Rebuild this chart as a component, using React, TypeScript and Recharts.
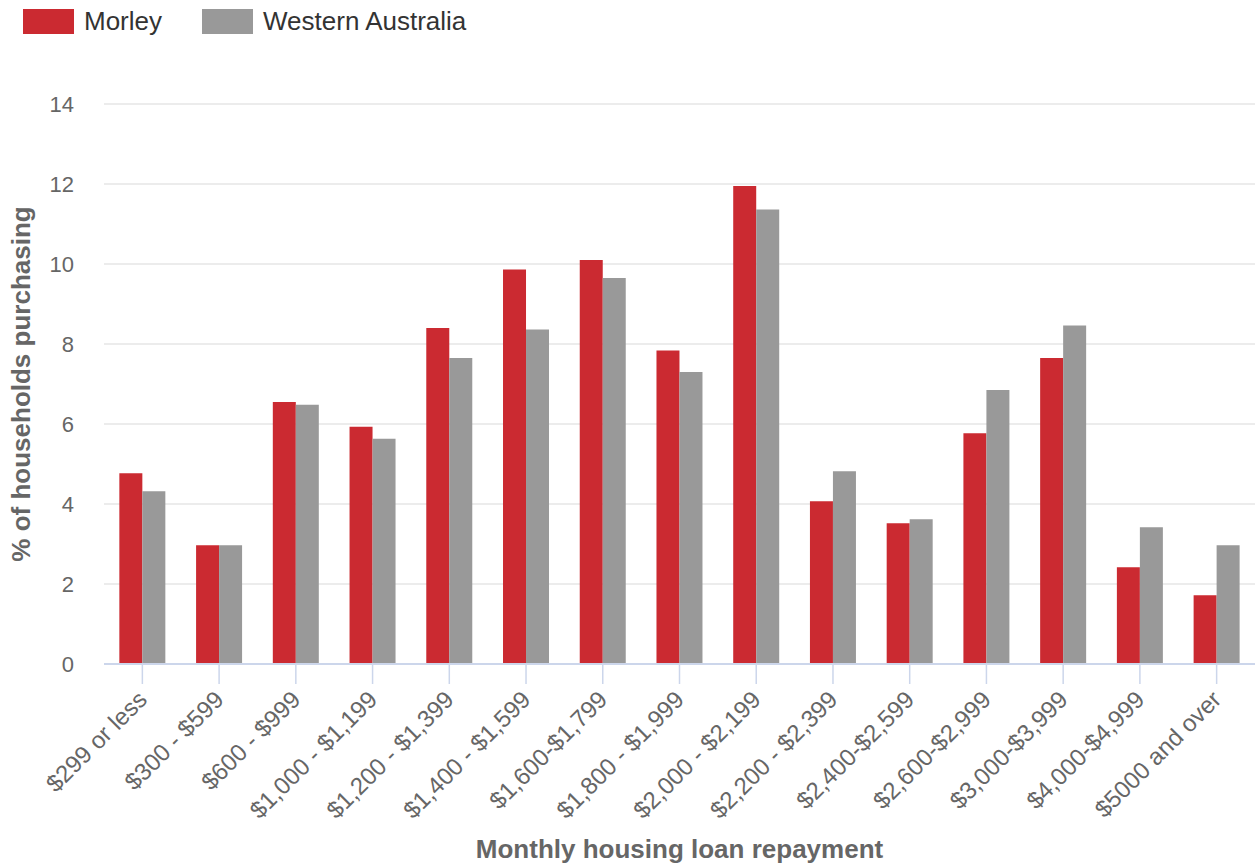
import { BarChart, Bar, XAxis, YAxis, CartesianGrid, Legend, Label } from "recharts";

// Tranches de remboursement mensuel
const categories = [
  "$299 or less",
  "$300 - $599",
  "$600 - $999",
  "$1,000 - $1,199",
  "$1,200 - $1,399",
  "$1,400 - $1,599",
  "$1,600-$1,799",
  "$1,800 - $1,999",
  "$2,000 - $2,199",
  "$2,200 - $2,399",
  "$2,400-$2,599",
  "$2,600-$2,999",
  "$3,000-$3,999",
  "$4,000-$4,999",
  "$5000 and over",
];

const morley = [4.77, 2.97, 6.55, 5.93, 8.4, 9.86, 10.1, 7.84, 11.95, 4.07, 3.52, 5.77, 7.65, 2.42, 1.72];
const westernAustralia = [4.32, 2.97, 6.48, 5.63, 7.65, 8.36, 9.65, 7.3, 11.36, 4.82, 3.62, 6.85, 8.46, 3.42, 2.97];

const yTicks = [0, 2, 4, 6, 8, 10, 12, 14];

const RED = "#cb2a31";
const GREY = "#999999";
const FONT = "'Liberation Sans', Arial, sans-serif";

const data = categories.map((cat, i) => ({
  cat,
  morley: morley[i],
  wa: westernAustralia[i],
}));

function RotatedTick({ x, y, payload }: any) {
  return (
    <text
      x={0}
      y={0}
      transform={`translate(${x + 6}, ${y + 15}) rotate(-45)`}
      textAnchor="end"
      fill="#666666"
      fontSize={24}
      fontFamily={FONT}
    >
      {payload.value}
    </text>
  );
}

function TopLegend() {
  const items = [
    { label: "Morley", color: RED },
    { label: "Western Australia", color: GREY },
  ];
  return (
    <div style={{ height: 44, display: "flex", alignItems: "flex-start", paddingLeft: 23, paddingTop: 9, boxSizing: "border-box" }}>
      {items.map((it) => (
        <div key={it.label} style={{ display: "flex", alignItems: "center", marginRight: 40 }}>
          <div style={{ width: 51, height: 25, background: it.color, marginRight: 10 }} />
          <span style={{ fontSize: 26, color: "#333333", fontFamily: FONT, lineHeight: "25px" }}>{it.label}</span>
        </div>
      ))}
    </div>
  );
}

export default function App() {
  return (
    <div style={{ position: "absolute", left: 0, top: 0 }}>
      <BarChart
        width={1255}
        height={865}
        data={data}
        margin={{ top: 60, right: 0, left: 0, bottom: 0 }}
        barCategoryGap="20%"
        barGap={0}
      >
        <Legend
          verticalAlign="top"
          align="left"
          content={() => <TopLegend />}
          wrapperStyle={{ left: 0, top: 0, width: 700 }}
        />
        <CartesianGrid vertical={false} stroke="#e6e6e6" strokeWidth={1.5} />
        <XAxis
          dataKey="cat"
          interval={0}
          height={201}
          tick={<RotatedTick />}
          tickSize={20}
          tickLine={{ stroke: "#ccd6eb", strokeWidth: 1.5 }}
          axisLine={{ stroke: "#ccd6eb", strokeWidth: 2 }}
        >
          <Label
            content={({ viewBox }: any) => (
              <text
                x={viewBox.x + viewBox.width / 2}
                y={858}
                textAnchor="middle"
                fill="#666666"
                fontSize={26}
                fontWeight="bold"
                fontFamily={FONT}
              >
                Monthly housing loan repayment
              </text>
            )}
          />
        </XAxis>
        <YAxis
          domain={[0, 14]}
          ticks={yTicks}
          width={104}
          axisLine={false}
          tickLine={false}
          tickSize={0}
          tickMargin={30}
          tick={{ fill: "#666666", fontSize: 22, fontFamily: FONT }}
        >
          <Label
            content={({ viewBox }: any) => {
              const cy = viewBox.y + viewBox.height / 2;
              return (
                <text
                  x={0}
                  y={0}
                  transform={`translate(30, ${cy}) rotate(-90)`}
                  textAnchor="middle"
                  fill="#666666"
                  fontSize={26}
                  fontWeight="bold"
                  fontFamily={FONT}
                >
                  % of households purchasing
                </text>
              );
            }}
          />
        </YAxis>
        <Bar dataKey="morley" name="Morley" fill={RED} isAnimationActive={false} />
        <Bar dataKey="wa" name="Western Australia" fill={GREY} isAnimationActive={false} />
      </BarChart>
    </div>
  );
}
